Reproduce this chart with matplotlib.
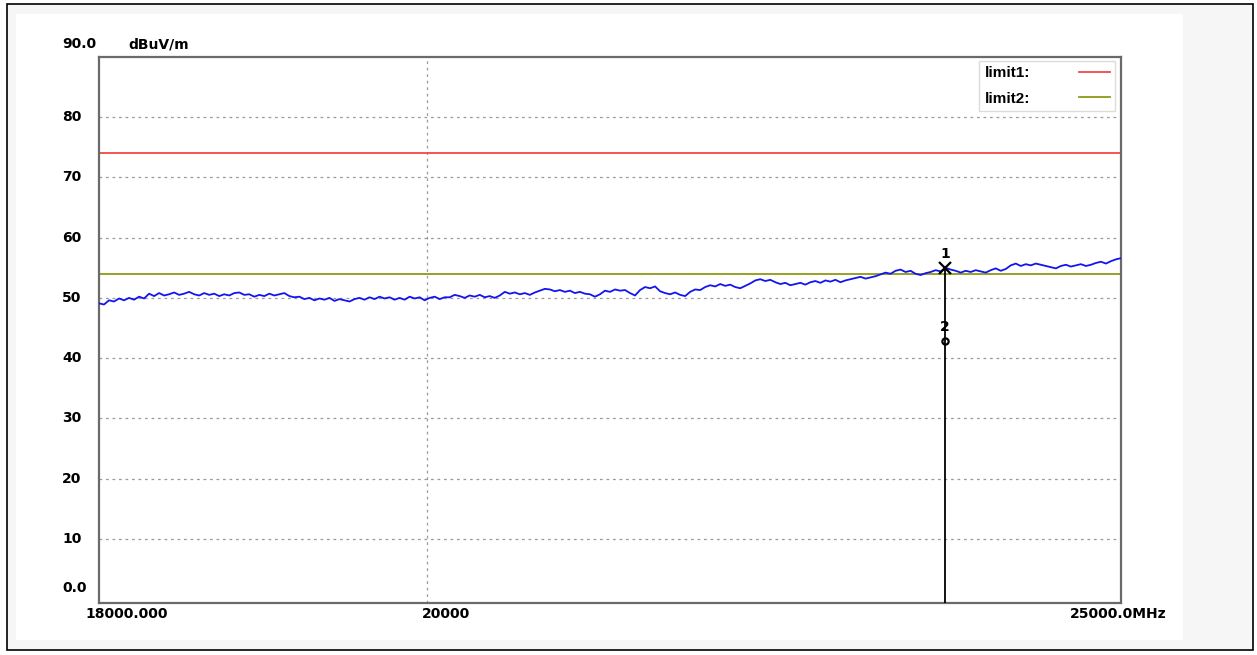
import numpy as np
import matplotlib
matplotlib.use("Agg")
import matplotlib.pyplot as plt
from matplotlib import transforms
from matplotlib.patches import Rectangle
from matplotlib.ticker import NullLocator

# ---------------- data ----------------
f_start = 18000.0
f_stop = 25000.0
y_min = 0.0
y_max = 90.0

trace_level = [
    49.1, 48.9, 49.6, 49.4, 49.9, 49.6, 50.0, 49.7, 50.2, 49.9,
    50.7, 50.3, 50.8, 50.4, 50.6, 50.9, 50.5, 50.7, 51.0, 50.6,
    50.4, 50.8, 50.5, 50.7, 50.3, 50.6, 50.4, 50.8, 50.9, 50.5,
    50.6, 50.2, 50.5, 50.3, 50.7, 50.4, 50.6, 50.8, 50.3, 50.1,
    50.2, 49.8, 50.0, 49.6, 49.9, 49.7, 50.0, 49.5, 49.8, 49.6,
    49.4, 49.8, 50.0, 49.7, 50.1, 49.8, 50.2, 49.9, 50.1, 49.7,
    50.0, 49.7, 50.2, 49.9, 50.1, 49.6, 50.0, 50.2, 49.8, 50.1,
    50.1, 50.5, 50.3, 50.0, 50.4, 50.2, 50.5, 50.1, 50.3, 50.0,
    50.4, 51.0, 50.7, 50.9, 50.6, 50.8, 50.5, 50.9, 51.2, 51.5,
    51.4, 51.1, 51.3, 51.0, 51.2, 50.8, 51.0, 50.7, 50.6, 50.2,
    50.6, 51.2, 51.0, 51.4, 51.2, 51.3, 50.8, 50.4, 51.3, 51.8,
    51.6, 51.9, 51.1, 50.8, 50.6, 50.9, 50.5, 50.3, 51.0, 51.4,
    51.3, 51.8, 52.1, 51.9, 52.3, 52.0, 52.2, 51.8, 51.6, 52.0,
    52.4, 52.9, 53.1, 52.8, 53.0, 52.6, 52.3, 52.5, 52.1, 52.3,
    52.5, 52.2, 52.6, 52.8, 52.5, 52.9, 52.7, 53.0, 52.6, 52.9,
    53.1, 53.3, 53.5, 53.2, 53.4, 53.6, 53.9, 54.2, 54.0, 54.5,
    54.7, 54.3, 54.5, 54.0, 53.8, 54.1, 54.3, 54.6, 54.4, 55.0,
    54.7, 54.5, 54.2, 54.5, 54.3, 54.6, 54.4, 54.2, 54.6, 54.9,
    54.5, 54.8, 55.4, 55.7, 55.3, 55.6, 55.4, 55.7, 55.5, 55.3,
    55.1, 54.9, 55.3, 55.5, 55.2, 55.4, 55.6, 55.3, 55.5, 55.8,
    56.0, 55.7, 56.1, 56.4, 56.6,
]
trace_freq = np.geomspace(f_start, f_stop, len(trace_level))

limit_names = ["limit1:", "limit2:"]
limit_levels = [74.0, 54.0]
limit_colors = ["#f24848", "#8c9a14"]

marker_ids = ["1", "2"]
marker_freq = [23625.0, 23625.0]
marker_level = [55.0, 42.8]
marker_symbols = ["x", "o"]

y_ticks = [0, 10, 20, 30, 40, 50, 60, 70, 80, 90]
y_tick_labels = ["0.0", "10", "20", "30", "40", "50", "60", "70", "80", "90.0"]
x_ticks = [18000, 20000, 25000]
x_tick_labels = ["18000.000", "20000", "25000.0MHz"]
y_unit = "dBuV/m"

# ---------------- figure ----------------
W, H = 1257, 655
fig = plt.figure(figsize=(W / 100, H / 100), dpi=100)
fig.patch.set_facecolor("white")

def fx(px):
    return px / W

def fy(py):
    return 1 - py / H

# window background and border
fig.add_artist(Rectangle((fx(7), fy(650)), fx(1253) - fx(7), fy(4) - fy(650),
                         transform=fig.transFigure, facecolor="#f6f6f6",
                         edgecolor="black", lw=1.2, zorder=-10))
fig.add_artist(Rectangle((fx(16), fy(640)), fx(1183) - fx(16), fy(14) - fy(640),
                         transform=fig.transFigure, facecolor="white",
                         edgecolor="none", zorder=-9))

ax_l, ax_r, ax_t, ax_b = 99, 1121, 57, 603
ax = fig.add_axes([fx(ax_l), fy(ax_b), fx(ax_r) - fx(ax_l), fy(ax_t) - fy(ax_b)])
ax.set_facecolor("white")
ax.set_xscale("log")
ax.set_xlim(f_start, f_stop)
px_per_db = (599 - 57) / (y_max - y_min)
ax.set_ylim(y_min - (ax_b - 599) / px_per_db, y_max)

for s in ax.spines.values():
    s.set_color("#6a6a6a")
    s.set_linewidth(1.6)

ax.xaxis.set_minor_locator(NullLocator())
ax.yaxis.set_minor_locator(NullLocator())
ax.set_xticks([x_ticks[1]])
ax.set_yticks(y_ticks[1:-1])
ax.set_xticklabels([])
ax.set_yticklabels([])
ax.tick_params(length=0)
ax.grid(True, color="#9a9a9a", lw=0.9, dashes=(2.2, 3.0))

# limit lines
handles = []
for name, lvl, col in zip(limit_names, limit_levels, limit_colors):
    h = ax.axhline(lvl, color=col, lw=1.3, label=name, zorder=2)
    handles.append(h)

# trace
ax.plot(trace_freq, trace_level, color="#1414ee", lw=1.3, zorder=3)

# markers
ax.vlines(marker_freq[0], ax.get_ylim()[0], marker_level[0], color="black", lw=1.3, zorder=4)
for mid, mf, ml, sym in zip(marker_ids, marker_freq, marker_level, marker_symbols):
    if sym == "x":
        ax.plot([mf], [ml], marker="x", ms=8, mew=1.6, color="black", zorder=5)
    else:
        ax.plot([mf], [ml], marker="o", ms=4.5, mew=1.6, mfc="none", color="black", zorder=5)
    tr = transforms.offset_copy(ax.transData, fig=fig, x=0, y=14, units="dots")
    ax.text(mf, ml, mid, transform=tr, ha="center", va="center",
            fontsize=10, fontweight="bold", color="black", zorder=6)

# y labels
ylab_font = dict(fontsize=10, fontweight="bold", family="DejaVu Sans", color="black")
blend = transforms.blended_transform_factory(ax.transAxes, ax.transData)
lab_x = (62 - ax_l) / (ax_r - ax_l)
for val, lab in zip(y_ticks, y_tick_labels):
    dy = 0
    if val == y_max:
        dy = 13
    elif val == y_min:
        dy = 11
    tr = transforms.offset_copy(blend, fig=fig, x=0, y=dy, units="dots")
    ax.text(lab_x, val, lab, transform=tr, ha="left", va="center", clip_on=False, **ylab_font)

tr = transforms.offset_copy(blend, fig=fig, x=0, y=13, units="dots")
ax.text((128 - ax_l) / (ax_r - ax_l), y_max, y_unit, transform=tr, ha="left",
        va="center", clip_on=False, **ylab_font)

# x labels
blendx = transforms.blended_transform_factory(ax.transData, ax.transAxes)
x_offsets = [(-14, "left"), (-5, "left"), (46, "right")]
for val, lab, (dx, ha) in zip(x_ticks, x_tick_labels, x_offsets):
    tr = transforms.offset_copy(blendx, fig=fig, x=dx, y=-11, units="dots")
    ax.text(val, 0, lab, transform=tr, ha=ha, va="center", clip_on=False, **ylab_font)

# legend
leg = ax.legend(handles=handles, loc="upper right",
                bbox_to_anchor=(fx(1115), fy(61)), bbox_transform=fig.transFigure,
                markerfirst=False, frameon=True, fancybox=False,
                prop=dict(family="Liberation Sans", weight="bold", size=11),
                handlelength=2.0, handletextpad=3.2, labelspacing=0.75,
                borderpad=0.35, borderaxespad=0)
leg.get_frame().set_edgecolor("#d4d4d4")
leg.get_frame().set_linewidth(1.0)

fig.savefig("out.png", dpi=100)
